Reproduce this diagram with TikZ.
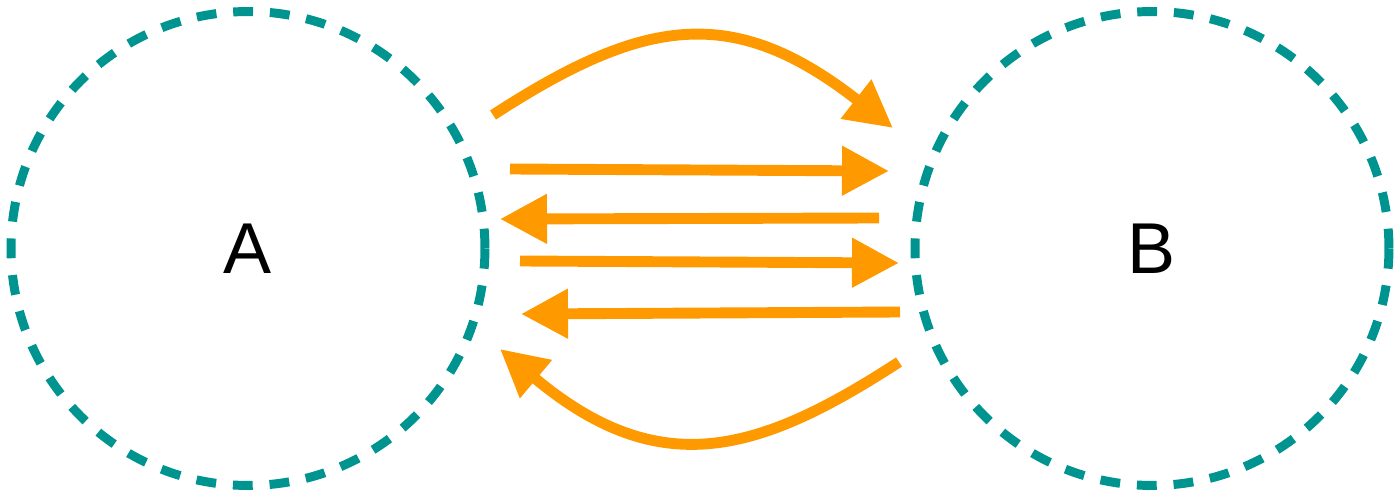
\documentclass[tikz,border=0pt]{standalone}
\usepackage{fontspec}
\setmainfont{Liberation Sans}
\usetikzlibrary{arrows.meta}
\definecolor{teal1}{RGB}{0,148,144}
\definecolor{orange1}{RGB}{255,153,0}
\begin{document}
\begin{tikzpicture}[x=0.02cm,y=-0.02cm,
  setcircle/.style={circle, draw=teal1, line width=5.1pt, dash pattern=on 11.3pt off 9.6pt, minimum size=9.48cm, inner sep=0pt, font=\fontsize{41}{41}\selectfont},
  flow/.style={draw=orange1, line width=6.2pt, -{Triangle[length=0.94cm,width=0.94cm]}}]
\useasboundingbox (0,0) rectangle (1400,496);
\node[setcircle] (A) at (248,248.5) {A};
\node[setcircle] (B) at (1152,248.5) {B};
% free ends of connectors
\coordinate (t1) at (493,115);  \coordinate (h1) at (893,128);
\coordinate (t2) at (510,169);  \coordinate (h2) at (889,171);
\coordinate (t3) at (879,218);  \coordinate (h3) at (500,219);
\coordinate (t4) at (520,261);  \coordinate (h4) at (899,263);
\coordinate (t5) at (900,312);  \coordinate (h5) at (521,314);
\coordinate (t6) at (899,362);  \coordinate (h6) at (500,349);
\draw[flow] (t1) .. controls (644,17) and (733,3) .. (h1);
\draw[flow] (t2) -- (h2);
\draw[flow] (t3) -- (h3);
\draw[flow] (t4) -- (h4);
\draw[flow] (t5) -- (h5);
\draw[flow] (t6) .. controls (759,453) and (660,483) .. (h6);
\end{tikzpicture}
\end{document}
